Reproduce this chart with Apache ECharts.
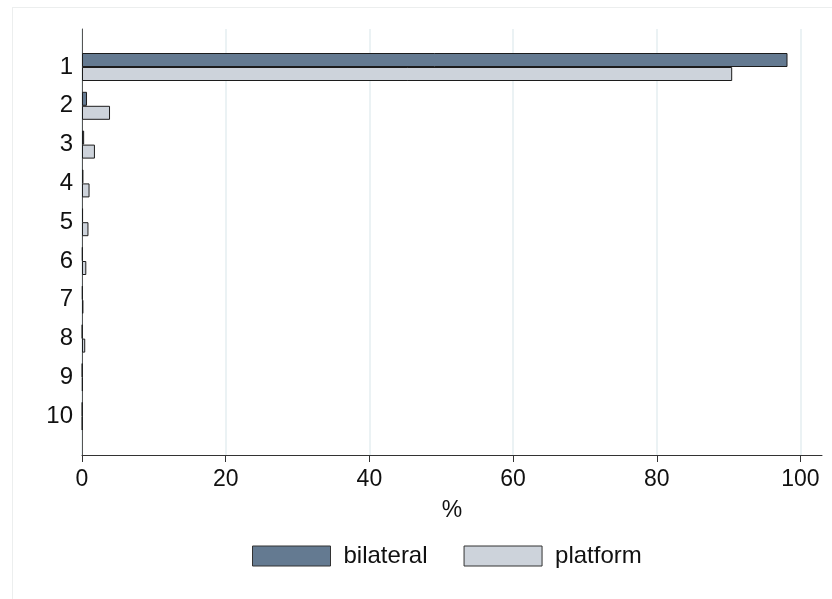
<!DOCTYPE html>
<html>
<head>
<meta charset="utf-8">
<script src="https://cdn.jsdelivr.net/npm/echarts@6/dist/echarts.min.js"></script>
<style>
	html, body { margin: 0; padding: 0; background: #fff; }
	#chart { width: 832px; height: 599px; position: relative; }
	.frame {
		position: absolute;
		left: 12px;
		top: 7px;
		width: 900px;
		height: 700px;
		border: 1px solid #eceeee;
		pointer-events: none;
	}
</style>
</head>
<body>
<div id="chart"></div>
<div class="frame"></div>
<script>
// rank of the destination (1 = first)
const ranks = ['1', '2', '3', '4', '5', '6', '7', '8', '9', '10'];
// share of cases, %
const bilateral = [98.2, 0.7, 0.3, 0.2, 0.15, 0.1, 0.1, 0.05, 0.05, 0.05];
const platform = [90.5, 3.9, 1.8, 1.05, 0.9, 0.6, 0.2, 0.45, 0.1, 0.05];
const xTicks = [0, 20, 40, 60, 80, 100];

const font = '"Liberation Sans", Arial, sans-serif';
const barBorder = '#1c1c1c';

let myChart = echarts.init(document.getElementById('chart'));

let option = {
	animation: false,
	textStyle: { fontFamily: font },
	legend: {
		left: 247,
		top: 539,
		itemWidth: 78,
		itemHeight: 20,
		itemGap: 36,
		icon: 'rect',
		itemStyle: { borderWidth: 1, borderColor: '#333' },
		textStyle: { fontSize: 24, color: '#111', padding: [0, 0, 0, 8], fontFamily: font },
		data: ['bilateral', 'platform']
	},
	grid: [
		{ left: 82, right: 10, top: 29, bottom: 144 },
		{ left: 82, right: 10, top: 47.6, height: 388 }
	],
	xAxis: [
		{
			gridIndex: 0,
			type: 'value',
			min: 0,
			max: 103,
			interval: 20,
			name: '%',
			nameLocation: 'middle',
			nameGap: 44,
			nameTextStyle: { fontSize: 23, color: '#111', fontFamily: font },
			axisLine: { show: true, lineStyle: { color: '#333', width: 1 } },
			axisTick: { show: true, length: 7, customValues: xTicks, lineStyle: { color: '#333' } },
			axisLabel: { customValues: xTicks, fontSize: 23, color: '#111', margin: 13, fontFamily: font },
			splitLine: { show: true, lineStyle: { color: '#e4eef0', width: 1.5 } }
		},
		{
			gridIndex: 1,
			type: 'value',
			min: 0,
			max: 103,
			show: false
		}
	],
	yAxis: [
		{
			gridIndex: 0,
			type: 'value',
			min: 0,
			max: 1,
			axisLine: { show: true, lineStyle: { color: '#555', width: 1 } },
			axisTick: { show: false },
			axisLabel: { show: false },
			splitLine: { show: false }
		},
		{
			gridIndex: 1,
			type: 'category',
			inverse: true,
			data: ranks,
			axisLine: { show: false },
			axisTick: { show: false },
			axisLabel: { fontSize: 24, color: '#111', margin: 9, padding: [4, 0, 0, 0], fontFamily: font },
			splitLine: { show: false }
		}
	],
	series: [
		{
			name: 'bilateral',
			type: 'bar',
			xAxisIndex: 1,
			yAxisIndex: 1,
			barWidth: 14,
			barGap: '0%',
			itemStyle: { color: '#647a91', borderColor: barBorder, borderWidth: 1 },
			data: bilateral
		},
		{
			name: 'platform',
			type: 'bar',
			xAxisIndex: 1,
			yAxisIndex: 1,
			barWidth: 14,
			barGap: '0%',
			itemStyle: { color: '#cdd3db', borderColor: barBorder, borderWidth: 1 },
			data: platform
		}
	]
};

myChart.setOption(option);
</script>
</body>
</html>
